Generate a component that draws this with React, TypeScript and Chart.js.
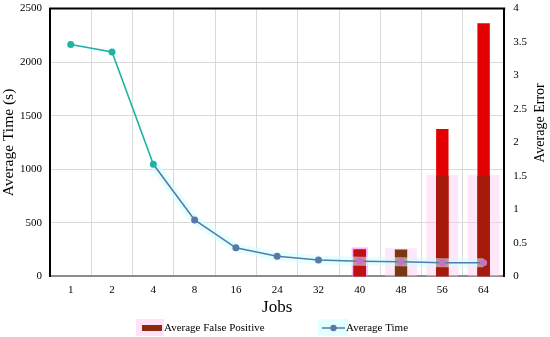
import React, { useEffect, useRef } from 'react';
import { Chart, registerables } from 'chart.js';

Chart.register(...registerables);

const jobs = ['1', '2', '4', '8', '16', '24', '32', '40', '48', '56', '64'];
const averageTime = [2165, 2095, 1047, 527, 267, 188, 153, 142, 137, 128, 127];
const averageFalsePositive = [null, null, null, null, null, null, null, 0.4, 0.4, 1.5, 1.5];
const averageError = [null, null, null, null, null, null, null, 0.4, null, 2.2, 3.78];
const legendLabels = ['Average False Positive', 'Average Time'];

const FONT = "'Liberation Serif', 'DejaVu Serif', serif";
const SHIFT = 7; // canvas is placed 7px above the page top

const framePlugin = {
  id: 'frame',
  afterDatasetsDraw(chart: any) {
    const { ctx, chartArea } = chart;
    ctx.save();
    ctx.strokeStyle = '#000';
    ctx.lineWidth = 2;
    ctx.beginPath();
    ctx.moveTo(chartArea.left - 1, chartArea.top);
    ctx.lineTo(chartArea.right + 1, chartArea.top);
    ctx.stroke();
    ctx.restore();
  },
  afterDraw(chart: any) {
    const { ctx } = chart;
    ctx.save();
    // right axis title, reading bottom-to-top
    ctx.fillStyle = '#000';
    ctx.font = `14px ${FONT}`;
    ctx.textAlign = 'center';
    ctx.textBaseline = 'middle';
    ctx.translate(540, 123 + SHIFT);
    ctx.rotate(-Math.PI / 2);
    ctx.fillText('Average Error', 0, 0);
    ctx.restore();

    // legend
    ctx.save();
    const ly = 328 + SHIFT;
    ctx.fillStyle = 'rgba(255,200,242,0.55)';
    ctx.fillRect(136, ly - 9, 28, 17);
    ctx.fillStyle = '#8b2a0a';
    ctx.fillRect(142, ly - 3, 20, 6);
    ctx.fillStyle = '#000';
    ctx.font = `11px ${FONT}`;
    ctx.textAlign = 'left';
    ctx.textBaseline = 'middle';
    ctx.fillText(legendLabels[0], 164, ly);

    ctx.fillStyle = 'rgba(215,255,255,0.7)';
    ctx.fillRect(318, ly - 9, 30, 17);
    ctx.strokeStyle = '#5878a8';
    ctx.lineWidth = 1.5;
    ctx.beginPath();
    ctx.moveTo(322, ly);
    ctx.lineTo(345, ly);
    ctx.stroke();
    ctx.fillStyle = '#5878a8';
    ctx.beginPath();
    ctx.arc(333.5, ly, 3.2, 0, Math.PI * 2);
    ctx.fill();
    ctx.fillStyle = '#000';
    ctx.fillText(legendLabels[1], 346, ly);
    ctx.restore();
  },
};

export default function App() {
  const ref = useRef<HTMLCanvasElement>(null);
  useEffect(() => {
    document.body.style.margin = '0';
    const lineColor = (i: number) => (i <= 2 ? '#1fb2a6' : i >= 7 ? '#c572c8' : '#5878a8');
    const chart = new Chart(ref.current!, {
      type: 'bar',
      data: {
        labels: jobs,
        datasets: [
          {
            type: 'line',
            label: 'Average Time',
            data: averageTime,
            yAxisID: 'y',
            borderColor: '#5878a8',
            borderWidth: 1.6,
            pointRadius: 3.5,
            pointBorderWidth: 0,
            pointBackgroundColor: jobs.map((_, i) => lineColor(i)),
            segment: {
              borderColor: (c: any) => (c.p0DataIndex < 2 ? '#1fb2a6' : '#5878a8'),
            },
            order: 0,
          } as any,
          {
            type: 'line',
            label: 'glow',
            data: averageTime.map((v, i) => (i >= 2 ? v : null)),
            yAxisID: 'y',
            borderColor: 'rgba(205,255,255,0.55)',
            borderWidth: 9,
            pointRadius: 0,
            order: 1,
          } as any,
          {
            label: 'Average False Positive',
            data: averageFalsePositive,
            yAxisID: 'y1',
            backgroundColor: ['', '', '', '', '', '', '', '#bd1010', '#7a3712', '#a51a0a', '#a51a0a'],
            barPercentage: 0.3,
            categoryPercentage: 1,
            grouped: false,
            order: 2,
          } as any,
          {
            label: 'Average Error',
            data: averageError,
            yAxisID: 'y1',
            backgroundColor: '#e30000',
            barPercentage: 0.3,
            categoryPercentage: 1,
            grouped: false,
            order: 3,
          } as any,
          {
            label: 'halo narrow',
            data: averageFalsePositive.map((v, i) => (i === 7 ? 0.43 : null)),
            yAxisID: 'y1',
            backgroundColor: 'rgba(255,120,225,0.55)',
            barPercentage: 0.39,
            categoryPercentage: 1,
            grouped: false,
            order: 4,
          } as any,
          {
            label: 'halo wide',
            data: averageFalsePositive.map((v, i) => (i >= 8 ? (v as number) + 0.02 : null)),
            yAxisID: 'y1',
            backgroundColor: 'rgba(255,200,242,0.45)',
            barPercentage: 0.77,
            categoryPercentage: 1,
            grouped: false,
            order: 5,
          } as any,
        ],
      },
      options: {
        animation: false,
        responsive: false,
        maintainAspectRatio: false,
        layout: { autoPadding: false, padding: { left: 0, right: 14, top: 0, bottom: 19 } },
        plugins: {
          tooltip: { enabled: false },
          legend: { display: false },
        },
        scales: {
          x: {
            offset: true,
            grid: { color: '#d9d9d9', lineWidth: 1, offset: true, drawTicks: false, tickLength: 0 },
            border: { color: '#8c8c8c', width: 2 },
            ticks: { color: '#000', font: { family: FONT, size: 11 }, padding: 7 },
            title: { display: true, text: 'Jobs', color: '#000', font: { family: FONT, size: 17 }, padding: { top: -6, bottom: 0 } },
          },
          y: {
            position: 'left',
            min: 0,
            max: 2500,
            ticks: { stepSize: 500, color: '#000', font: { family: FONT, size: 11 }, padding: 8, callback: (v: any) => String(v) },
            grid: { color: '#d9d9d9', drawTicks: false, tickLength: 0 },
            border: { color: '#000', width: 2 },
            title: { display: true, text: 'Average Time (s)', color: '#000', font: { family: FONT, size: 15.5 }, padding: { top: 0, bottom: -6.5 } },
          },
          y1: {
            position: 'right',
            min: 0,
            max: 4,
            ticks: { stepSize: 0.5, color: '#000', font: { family: FONT, size: 11 }, padding: 9, callback: (v: any) => String(v) },
            grid: { display: false, drawTicks: false, tickLength: 0 },
            border: { color: '#000', width: 2 },
          },
        },
      } as any,
      plugins: [framePlugin],
    });
    return () => chart.destroy();
  }, []);
  return (
    <div style={{ width: 550, height: 337, position: 'relative', overflow: 'hidden' }}>
      <canvas
        ref={ref}
        width={550}
        height={337 + SHIFT}
        style={{ position: 'absolute', left: 0, top: -SHIFT, width: 550, height: 337 + SHIFT, display: 'block' }}
      />
    </div>
  );
}
